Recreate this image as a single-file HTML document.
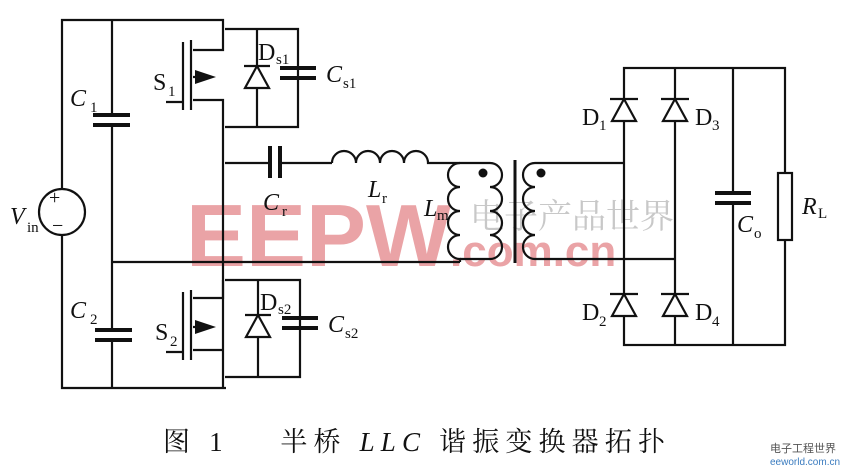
<!DOCTYPE html>
<html><head><meta charset="utf-8"><style>
html,body{margin:0;padding:0;background:#fff;}
svg{display:block;}
</style></head><body>
<svg width="851" height="471" viewBox="0 0 851 471" xmlns="http://www.w3.org/2000/svg">
<!-- watermark -->
<text x="186" y="266" font-family="Liberation Sans, sans-serif" font-weight="bold" font-size="88" fill="#eaa3a6" textLength="265" lengthAdjust="spacingAndGlyphs">EEPW</text>
<text x="450" y="266" font-family="Liberation Sans, sans-serif" font-weight="bold" font-size="44" fill="#eaa3a6">.com.cn</text>
<text x="470" y="228" font-family="Noto Serif CJK SC, serif" font-size="34" fill="#c8c8c8">电子产品世界</text>

<g stroke="#111" stroke-width="2.2" fill="none">
<polyline points="62,189 62,20 223,20 223,50 193,50"/>
<polyline points="62,235 62,388 226,388"/>
<circle cx="62" cy="212" r="23"/>
<line x1="112" y1="20" x2="112" y2="115"/>
<line x1="112" y1="125" x2="112" y2="330"/>
<line x1="112" y1="340" x2="112" y2="388"/>
<line x1="112" y1="262" x2="460" y2="262"/>
<line x1="93" y1="115" x2="130" y2="115" stroke-width="4"/>
<line x1="93" y1="125" x2="130" y2="125" stroke-width="4"/>
<line x1="95" y1="330" x2="132" y2="330" stroke-width="4"/>
<line x1="95" y1="340" x2="132" y2="340" stroke-width="4"/>
<line x1="183" y1="42" x2="183" y2="110"/>
<line x1="191" y1="40" x2="191" y2="110"/>
<polyline points="166,102 183,102"/>
<polyline points="193,100 223,100 223,388"/>
<line x1="193" y1="77" x2="210" y2="77"/>
<polyline points="225,29 298,29 298,127 225,127"/>
<line x1="257" y1="29" x2="257" y2="127"/>
<polyline points="223,280 223,298 193,298"/>
<line x1="183" y1="292" x2="183" y2="360"/>
<line x1="191" y1="290" x2="191" y2="360"/>
<line x1="166" y1="352" x2="183" y2="352"/>
<line x1="193" y1="350" x2="223" y2="350"/>
<line x1="193" y1="327" x2="210" y2="327"/>
<polyline points="225,280 300,280 300,377 225,377"/>
<line x1="258" y1="280" x2="258" y2="377"/>
<line x1="280" y1="68" x2="316" y2="68" stroke-width="4"/>
<line x1="280" y1="78" x2="316" y2="78" stroke-width="4"/>
<line x1="282" y1="318" x2="318" y2="318" stroke-width="4"/>
<line x1="282" y1="328" x2="318" y2="328" stroke-width="4"/>
<line x1="225" y1="163" x2="270" y2="163"/>
<line x1="270" y1="146" x2="270" y2="178" stroke-width="4"/>
<line x1="280" y1="146" x2="280" y2="178" stroke-width="4"/>
<line x1="280" y1="163" x2="332" y2="163"/>
<path d="M332,163 a12,12 0 0 1 24,0 a12,12 0 0 1 24,0 a12,12 0 0 1 24,0 a12,12 0 0 1 24,0 L460,163"/>
<path d="M460,163 a12,12 0 0 0 0,24 a12,12 0 0 0 0,24 a12,12 0 0 0 0,24 a12,12 0 0 0 0,24 L460,262"/>
<line x1="460" y1="163" x2="490" y2="163"/>
<line x1="460" y1="259" x2="490" y2="259"/>
<path d="M490,163 a12,12 0 0 1 0,24 a12,12 0 0 1 0,24 a12,12 0 0 1 0,24 a12,12 0 0 1 0,24 L490,259"/>
<line x1="515" y1="160" x2="515" y2="263" stroke-width="3"/>
<path d="M535,163 a12,12 0 0 0 0,24 a12,12 0 0 0 0,24 a12,12 0 0 0 0,24 a12,12 0 0 0 0,24"/>
<line x1="535" y1="163" x2="624" y2="163"/>
<line x1="535" y1="259" x2="675" y2="259"/>
<rect x="624" y="68" width="161" height="277"/>
<line x1="675" y1="68" x2="675" y2="345"/>
<line x1="733" y1="68" x2="733" y2="193"/>
<line x1="733" y1="203" x2="733" y2="345"/>
<line x1="715" y1="193" x2="751" y2="193" stroke-width="4"/>
<line x1="715" y1="203" x2="751" y2="203" stroke-width="4"/>
<rect x="778" y="173" width="14" height="67" fill="#fff"/>
</g>
<g fill="#111">
<polygon points="195,70 216,77 195,84"/>
<polygon points="195,320 216,327 195,334"/>
<circle cx="483" cy="173" r="4.5"/>
<circle cx="541" cy="173" r="4.5"/>
</g>
<g stroke="#111" stroke-width="2.2" fill="#fff">
<polygon points="257,66 245,88 269,88"/><line x1="244" y1="66" x2="270" y2="66"/>
<polygon points="258,315 246,337 270,337"/><line x1="245" y1="315" x2="271" y2="315"/>
<polygon points="624,99 612,121 636,121"/><line x1="610" y1="99" x2="638" y2="99"/>
<polygon points="675,99 663,121 687,121"/><line x1="661" y1="99" x2="689" y2="99"/>
<polygon points="624,294 612,316 636,316"/><line x1="610" y1="294" x2="638" y2="294"/>
<polygon points="675,294 663,316 687,316"/><line x1="661" y1="294" x2="689" y2="294"/>
</g>
<g font-family="Liberation Serif, serif" font-size="24" fill="#111">
<text x="70" y="106" font-style="italic">C</text><text x="90" y="112" font-size="15">1</text>
<text x="70" y="318" font-style="italic">C</text><text x="90" y="324" font-size="15">2</text>
<text x="10" y="224" font-style="italic">V</text><text x="27" y="232" font-size="15">in</text>
<text x="49" y="204" font-size="20">+</text><text x="52" y="232" font-size="20">−</text>
<text x="153" y="90">S</text><text x="168" y="96" font-size="15">1</text>
<text x="155" y="340">S</text><text x="170" y="346" font-size="15">2</text>
<text x="258" y="60">D</text><text x="276" y="64" font-size="15">s1</text>
<text x="260" y="310">D</text><text x="278" y="314" font-size="15">s2</text>
<text x="326" y="82" font-style="italic">C</text><text x="343" y="88" font-size="15">s1</text>
<text x="328" y="332" font-style="italic">C</text><text x="345" y="338" font-size="15">s2</text>
<text x="263" y="210" font-style="italic">C</text><text x="282" y="216" font-size="15">r</text>
<text x="368" y="197" font-style="italic">L</text><text x="382" y="203" font-size="15">r</text>
<text x="424" y="216" font-style="italic">L</text><text x="437" y="220" font-size="15">m</text>
<text x="582" y="125">D</text><text x="599" y="130" font-size="15">1</text>
<text x="582" y="320">D</text><text x="599" y="326" font-size="15">2</text>
<text x="695" y="125">D</text><text x="712" y="130" font-size="15">3</text>
<text x="695" y="320">D</text><text x="712" y="326" font-size="15">4</text>
<text x="737" y="232" font-style="italic">C</text><text x="754" y="238" font-size="15">o</text>
<text x="802" y="214" font-style="italic">R</text><text x="818" y="218" font-size="15">L</text>
</g>
<text x="163" y="451" font-family="Liberation Serif, Noto Serif CJK SC, serif" font-size="27" fill="#111" textLength="502" lengthAdjust="spacing" xml:space="preserve">图 1    半桥 <tspan font-style="italic">LLC</tspan> 谐振变换器拓扑</text>
<text x="770" y="452" font-family="Noto Sans CJK SC, sans-serif" font-size="11" fill="#555">电子工程世界</text>
<text x="770" y="465" font-family="Liberation Sans, sans-serif" font-size="10" fill="#3a7bbf">eeworld.com.cn</text>
</svg>
</body></html>
